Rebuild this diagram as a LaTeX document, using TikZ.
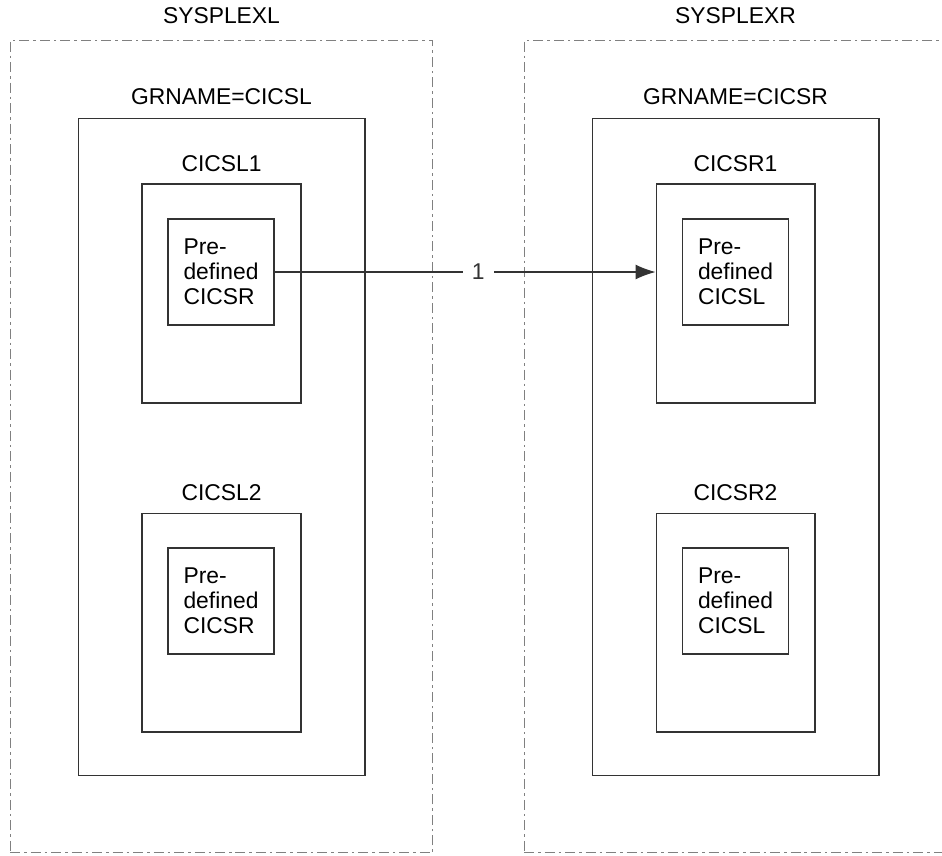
\documentclass[tikz,border=0pt]{standalone}
\usepackage{fontspec}
\setmainfont{Liberation Sans}
\usetikzlibrary{positioning,arrows.meta}

\begin{document}
\begin{tikzpicture}[x=0.02cm, y=-0.02cm, >={Latex[length=4mm,width=3mm]},
  font=\fontsize{13}{14.2}\selectfont,
  sysplex/.style={draw=black!50, line width=0.6pt, minimum width=8.46cm, minimum height=16.26cm,
    dash pattern=on 2mm off 0.8mm on 0.5mm off 0.8mm},
  grp/.style={draw=black!80, line width=0.6pt, minimum width=5.74cm, minimum height=13.16cm},
  rgn/.style={draw=black!80, line width=0.6pt, minimum width=3.18cm, minimum height=4.38cm},
  predef/.style={draw=black!80, line width=0.6pt, minimum width=2.12cm, minimum height=2.12cm,
    align=left, inner sep=0pt},
  lbl/.style={inner sep=0pt}]
\useasboundingbox (0,0) rectangle (942,855);
% SYSPLEXL
\node[sysplex] (sxl) at (221.5,446.5) {};
\node[lbl, above=0.3cm of sxl] (sxlt) {SYSPLEXL};
\node[grp] (gl) at (221.5,447) {};
\node[lbl, above=0.24cm of gl] (glt) {GRNAME=CICSL};
\node[rgn] (l1) at (221.5,293.5) {};
\node[lbl, above=0.22cm of l1] (l1t) {CICSL1};
\node[predef] (pl1) at (221,272) {Pre-\\defined\\CICSR};
\node[rgn] (l2) at (221.5,622.5) {};
\node[lbl, above=0.22cm of l2] (l2t) {CICSL2};
\node[predef] (pl2) at (221,601) {Pre-\\defined\\CICSR};
% SYSPLEXR
\node[sysplex] (sxr) at (735.5,446.5) {};
\node[lbl, above=0.3cm of sxr] (sxrt) {SYSPLEXR};
\node[grp] (gr) at (735.5,447) {};
\node[lbl, above=0.24cm of gr] (grt) {GRNAME=CICSR};
\node[rgn] (r1) at (735.5,293.5) {};
\node[lbl, above=0.22cm of r1] (r1t) {CICSR1};
\node[predef] (pr1) at (735.5,272) {Pre-\\defined\\CICSL};
\node[rgn] (r2) at (735.5,622.5) {};
\node[lbl, above=0.22cm of r2] (r2t) {CICSR2};
\node[predef] (pr2) at (735.5,601) {Pre-\\defined\\CICSL};
% link 1
\draw[->, black!80, line width=0.6pt] (pl1.east) -- node[pos=0.535, fill=white, inner xsep=0.18cm, inner ysep=0pt] (n1) {1} (pl1.east -| r1.west);
\end{tikzpicture}
\end{document}
